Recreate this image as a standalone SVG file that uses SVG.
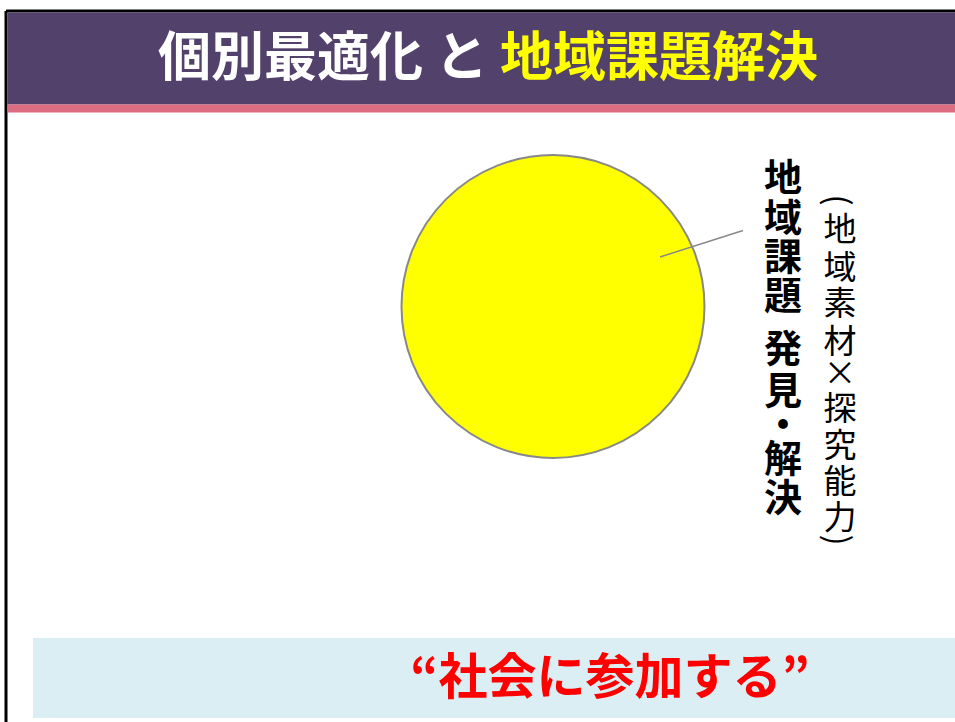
<svg xmlns="http://www.w3.org/2000/svg" width="955" height="722" viewBox="0 0 955 722">
<style>
.jp{font-family:"Noto Sans CJK JP","Noto Sans CJK SC",sans-serif}
.title{font-size:53px;font-weight:700}
.vb{font-size:38px;font-weight:700;fill:#000;text-anchor:middle;dominant-baseline:central}
.vr{font-size:33px;font-weight:400;fill:#000;text-anchor:middle;dominant-baseline:central}
.banner{font-size:49px;font-weight:700;fill:#FF0000;text-anchor:middle}
</style>
<rect x="0" y="0" width="955" height="722" fill="#FFFFFF"/>
<g id="frame">
<line x1="6" y1="11" x2="955" y2="11" stroke="#000" stroke-width="3"/>
<line x1="6" y1="11" x2="6" y2="722" stroke="#000" stroke-width="3"/>
</g>
<g id="header">
<rect x="7.5" y="12.5" width="947.5" height="92" fill="#52416A"/>
<rect x="7.5" y="104.5" width="947.5" height="8" fill="#DB6C82"/>
<text class="jp title" x="488" y="76" text-anchor="middle"><tspan fill="#FFFFFF">個別最適化 と </tspan><tspan fill="#FFFF00">地域課題解決</tspan></text>
</g>
<g id="circle">
<circle cx="553" cy="306.5" r="151.5" fill="#FFFF00" stroke="#888888" stroke-width="2"/>
</g>
<g id="connectors">
<line x1="660" y1="257" x2="743" y2="230.5" stroke="#888888" stroke-width="1.5"/>
</g>
<g id="label-main">
<text class="jp vb" x="783" y="174">地</text>
<text class="jp vb" x="783" y="214">域</text>
<text class="jp vb" x="783" y="253">課</text>
<text class="jp vb" x="783" y="292">題</text>
<text class="jp vb" x="783" y="345">発</text>
<text class="jp vb" x="783" y="387">見</text>
<text class="jp vb" x="783" y="421">・</text>
<text class="jp vb" x="783" y="455">解</text>
<text class="jp vb" x="783" y="494">決</text>
</g>
<g id="label-sub">
<text class="jp vr" x="840" y="200" transform="rotate(90 840 200)">(</text>
<text class="jp vr" x="840" y="227">地</text>
<text class="jp vr" x="840" y="265">域</text>
<text class="jp vr" x="840" y="301">素</text>
<text class="jp vr" x="840" y="339">材</text>
<text class="jp vr" x="840" y="371">×</text>
<text class="jp vr" x="840" y="406">探</text>
<text class="jp vr" x="840" y="443">究</text>
<text class="jp vr" x="840" y="479">能</text>
<text class="jp vr" x="840" y="515">力</text>
<text class="jp vr" x="840" y="540" transform="rotate(90 840 540)">)</text>
</g>
<g id="banner">
<rect x="33" y="638" width="922" height="80" fill="#DBEEF3"/>
<text class="jp banner" x="610" y="694">“社会に参加する”</text>
</g>
</svg>
